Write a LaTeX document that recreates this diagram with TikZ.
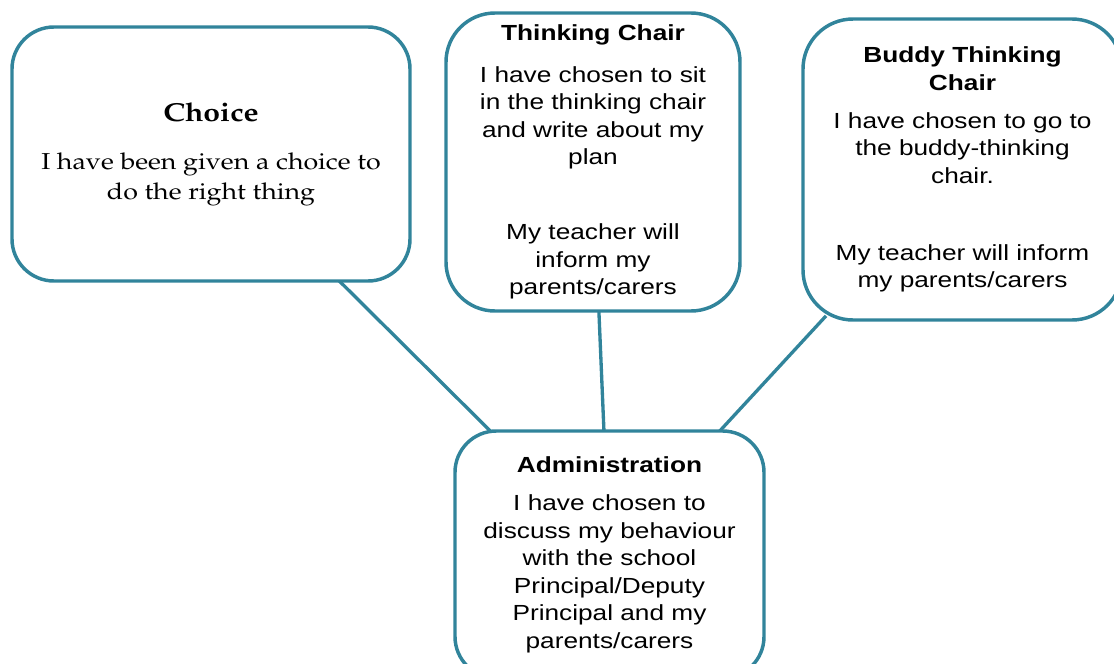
\documentclass[tikz,border=0pt]{standalone}
\usepackage[T1]{fontenc}
\usepackage{fontspec}
\usepackage{graphicx}
\usetikzlibrary{calc}
\usetikzlibrary{backgrounds}
\newfontfamily\boxfont[FakeStretch=1.2]{Liberation Sans}
\definecolor{tealline}{RGB}{49,132,155}
\newcommand{\pala}{\fontencoding{T1}\fontfamily{ppl}\selectfont}

\begin{document}
\begin{tikzpicture}[x=0.75pt,y=-0.75pt]%
	\tikzstyle{bubble}=[rectangle, draw=tealline, line width=2.6pt, fill=white, align=center, inner sep=0pt, font=\boxfont\fontsize{16.4pt}{20.6pt}\selectfont];
	\tikzstyle{link}=[draw=tealline, line width=2.5pt, shorten <=-6pt, shorten >=-6pt];
	\useasboundingbox (0,0) rectangle (1114,664);
	\node[minimum width=298.5pt, minimum height=190.5pt, rounded corners=31.5pt] (choice) at (211,154) [bubble] {\raisebox{-2pt}{\scalebox{1.16}[1]{\parbox{220pt}{\centering\pala
		{\fontsize{19.5pt}{22.5pt}\selectfont\bfseries Choice}\\[13.5pt]
		\fontsize{17.3pt}{22.5pt}\selectfont I have been given a choice to\\ do the right thing}}}};
	\node[minimum width=220.5pt, minimum height=223.5pt, rounded corners=36.75pt] (chair) at (593,162) [bubble] {\textbf{Thinking Chair}\\[10.9pt]
		I have chosen to sit\\ in the thinking chair\\ and write about my\\ plan\\[35.6pt]
		My teacher will\\ inform my\\ parents/carers};
	\node[minimum width=239.25pt, minimum height=225.75pt, rounded corners=37.5pt] (buddy) at (962.5,169.5) [bubble] {\textbf{Buddy Thinking}\\ \textbf{Chair}\\[7.9pt]
		I have chosen to go to\\ the buddy-thinking\\ chair.\\[37.1pt]
		My teacher will inform\\ my parents/carers};
	\node[minimum width=231.75pt, minimum height=185.25pt, rounded corners=31pt] (admin) at (609.5,554.5) [bubble] {\textbf{Administration}\\[8.6pt]
		I have chosen to\\ discuss my behaviour\\ with the school\\ Principal/Deputy\\ Principal and my\\ parents/carers};
	% connectors behind the boxes
	\begin{scope}[on background layer]
		\draw[link] ($(choice.south west)!.824!(choice.south east)$) -- ($(admin.north west)!.113!(admin.north east)$);
		\draw[link] ($(chair.south west)!.52!(chair.south east)$) -- ($(admin.north west)!.482!(admin.north east)$);
		\draw[link] ($(buddy.south west)!.06!(buddy.south east)$) -- ($(admin.north west)!.858!(admin.north east)$);
	\end{scope}
\end{tikzpicture}
\end{document}
